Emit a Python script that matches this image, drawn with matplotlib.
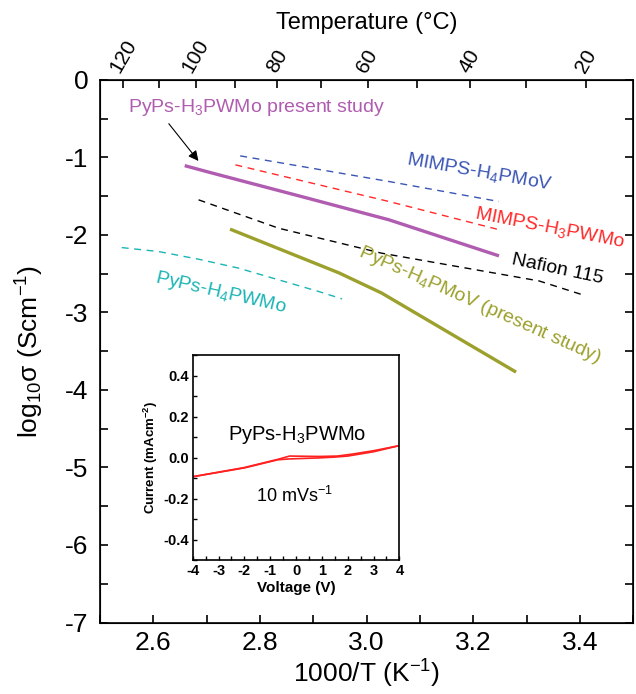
import numpy as np
import matplotlib.pyplot as plt
from matplotlib.ticker import MultipleLocator

plt.rcParams['font.family'] = ['Liberation Sans', 'DejaVu Sans']
plt.rcParams['mathtext.fontset'] = 'custom'
plt.rcParams['mathtext.rm'] = 'Liberation Sans'
plt.rcParams['mathtext.it'] = 'Liberation Sans:italic'
plt.rcParams['mathtext.bf'] = 'Liberation Sans:bold'
plt.rcParams['axes.unicode_minus'] = False

# ---------- dane: 1000/T (K^-1) vs log10 sigma ----------
pwmo_x = [2.659, 2.709, 2.878, 3.042, 3.248]          # PyPs-H3PWMo (present study)
pwmo_y = [-1.107, -1.20, -1.506, -1.806, -2.271]

pmov_x = [2.744, 2.948, 3.028, 3.280]                 # PyPs-H4PMoV (present study)
pmov_y = [-1.926, -2.49, -2.75, -3.77]

mimps_pmov_x = [2.763, 3.042, 3.248]                  # MIMPS-H4PMoV
mimps_pmov_y = [-0.981, -1.312, -1.570]

mimps_pwmo_x = [2.754, 3.042, 3.244]                  # MIMPS-H3PWMo
mimps_pwmo_y = [-1.097, -1.570, -1.926]

nafion_x = [2.685, 2.835, 3.028, 3.323, 3.411]        # Nafion 115
nafion_y = [-1.548, -1.914, -2.236, -2.594, -2.787]

h4pwmo_x = [2.541, 2.610, 2.685, 2.760, 2.835, 2.910, 2.954]   # PyPs-H4PWMo
h4pwmo_y = [-2.164, -2.215, -2.314, -2.429, -2.58, -2.73, -2.826]

temp_major = [120, 100, 80, 60, 40, 20]
temp_minor = [110, 90, 70, 50, 30]

# woltamperogram (wstawka)
cv_up_v = [-4.0, -2.0, -0.7, -0.25, 0.9, 1.6, 2.2, 3.0, 4.0]
cv_up_i = [-0.093, -0.048, -0.008, 0.008, 0.006, 0.008, 0.018, 0.034, 0.059]
cv_down_v = [4.0, 3.0, 2.0, 1.5, 0.9, -0.25, -0.7, -2.0, -4.0]
cv_down_i = [0.059, 0.029, 0.008, 0.003, -0.001, -0.006, -0.010, -0.050, -0.093]

fig = plt.figure(figsize=(6.36, 6.94), dpi=100)
ax = fig.add_axes([0.157, 0.103, 0.839, 0.782])

dash = (0, (5, 4))
ax.plot(pwmo_x, pwmo_y, color='#b05cb0', lw=2.4, solid_capstyle='butt')
ax.plot(pmov_x, pmov_y, color='#9ca02c', lw=2.4, solid_capstyle='butt')
ax.plot(mimps_pmov_x, mimps_pmov_y, color='#3a55b4', lw=1.0, linestyle=dash)
ax.plot(mimps_pwmo_x, mimps_pwmo_y, color='#ff2a2a', lw=1.0, linestyle=dash)
ax.plot(nafion_x, nafion_y, color='black', lw=1.0, linestyle=dash)
ax.plot(h4pwmo_x, h4pwmo_y, color='#1cb4b4', lw=1.0, linestyle=dash)

ax.set_xlim(2.5, 3.5)
ax.set_ylim(-7, 0)
ax.xaxis.set_minor_locator(MultipleLocator(0.1))
ax.yaxis.set_major_locator(MultipleLocator(1))
ax.yaxis.set_minor_locator(MultipleLocator(0.5))
ax.set_xticks([2.6, 2.8, 3.0, 3.2, 3.4])
ax.set_xticklabels(['2.6', '2.8', '3.0', '3.2', '3.4'])
ax.tick_params(which='both', direction='in', right=True, labelsize=19, width=1.2, length=6, pad=8)
ax.tick_params(axis='x', pad=6)
for s in ax.spines.values():
    s.set_linewidth(1.2)
ax.set_xlabel('1000/T (K$^{-1}$)', fontsize=19, labelpad=2)
ax.set_ylabel('log$_{10}$σ (Scm$^{-1}$)', fontsize=19, labelpad=14)

# górna oś – temperatura
ax2 = ax.twiny()
ax2.set_xlim(ax.get_xlim())
ax2.set_xticks([1000 / (t + 273.15) for t in temp_major])
ax2.set_xticklabels([str(t) for t in temp_major], rotation=60, fontsize=15)
ax2.set_xticks([1000 / (t + 273.15) for t in temp_minor], minor=True)
ax2.tick_params(which='both', direction='in', width=1.2, length=6, pad=3)
ax2.set_xlabel('Temperature (°C)', fontsize=17, labelpad=5)

# podpisy serii
ax.text(2.553, -0.36, 'PyPs-H$_3$PWMo present study', color='#b05cb0', fontsize=14,
        ha='left', va='center')
ax.annotate('', xy=(2.688, -1.075), xytext=(2.626, -0.538),
            arrowprops=dict(arrowstyle='-|>', color='black', lw=0.8, mutation_scale=15))
ax.text(3.211, -1.19, 'MIMPS-H$_4$PMoV', color='#3a55b4', fontsize=14, rotation=-10,
        ha='center', va='center', rotation_mode='anchor')
ax.text(3.344, -1.91, 'MIMPS-H$_3$PWMo', color='#ff2a2a', fontsize=14, rotation=-11,
        ha='center', va='center', rotation_mode='anchor')
ax.text(3.357, -2.45, 'Nafion 115', color='black', fontsize=14, rotation=-12,
        ha='center', va='center', rotation_mode='anchor')
ax.text(3.211, -2.90, 'PyPs-H$_4$PMoV (present study)', color='#9ca02c', fontsize=14,
        rotation=-24, ha='center', va='center', rotation_mode='anchor')
ax.text(2.726, -2.75, 'PyPs-H$_4$PWMo', color='#1cb4b4', fontsize=14, rotation=-13,
        ha='center', va='center', rotation_mode='anchor')

# wstawka CV
ins = fig.add_axes([0.303, 0.193, 0.325, 0.295])
ins.plot(cv_up_v, cv_up_i, color='#ff2020', lw=1.2)
ins.plot(cv_down_v, cv_down_i, color='#ff2020', lw=1.2)
ins.set_xlim(-4, 4)
ins.set_ylim(-0.5, 0.5)
ins.xaxis.set_minor_locator(MultipleLocator(0.5))
ins.yaxis.set_minor_locator(MultipleLocator(0.1))
ins.set_yticks([-0.4, -0.2, 0.0, 0.2, 0.4])
ins.set_yticklabels(['-0.4', '-0.2', '0.0', '0.2', '0.4'])
ins.set_xticks(range(-4, 5))
ins.set_xticklabels([str(v) for v in range(-4, 5)])
ins.tick_params(which='both', direction='in', labelsize=10.5, width=1.0, length=3, pad=3)
for lab in ins.get_xticklabels() + ins.get_yticklabels():
    lab.set_fontweight('bold')
for s in ins.spines.values():
    s.set_linewidth(1.2)
ins.set_xlabel('Voltage (V)', fontsize=11, fontweight='bold', labelpad=2)
ins.set_ylabel(r'Current (mAcm$^{\mathbf{-2}}$)', fontsize=9.5, fontweight='bold', labelpad=2)
ins.text(0.03, 0.11, 'PyPs-H$_3$PWMo', fontsize=14.5, ha='center', va='center')
ins.text(-0.05, -0.186, '10 mVs$^{-1}$', fontsize=13, ha='center', va='center')

fig.savefig('out.png', dpi=100)
